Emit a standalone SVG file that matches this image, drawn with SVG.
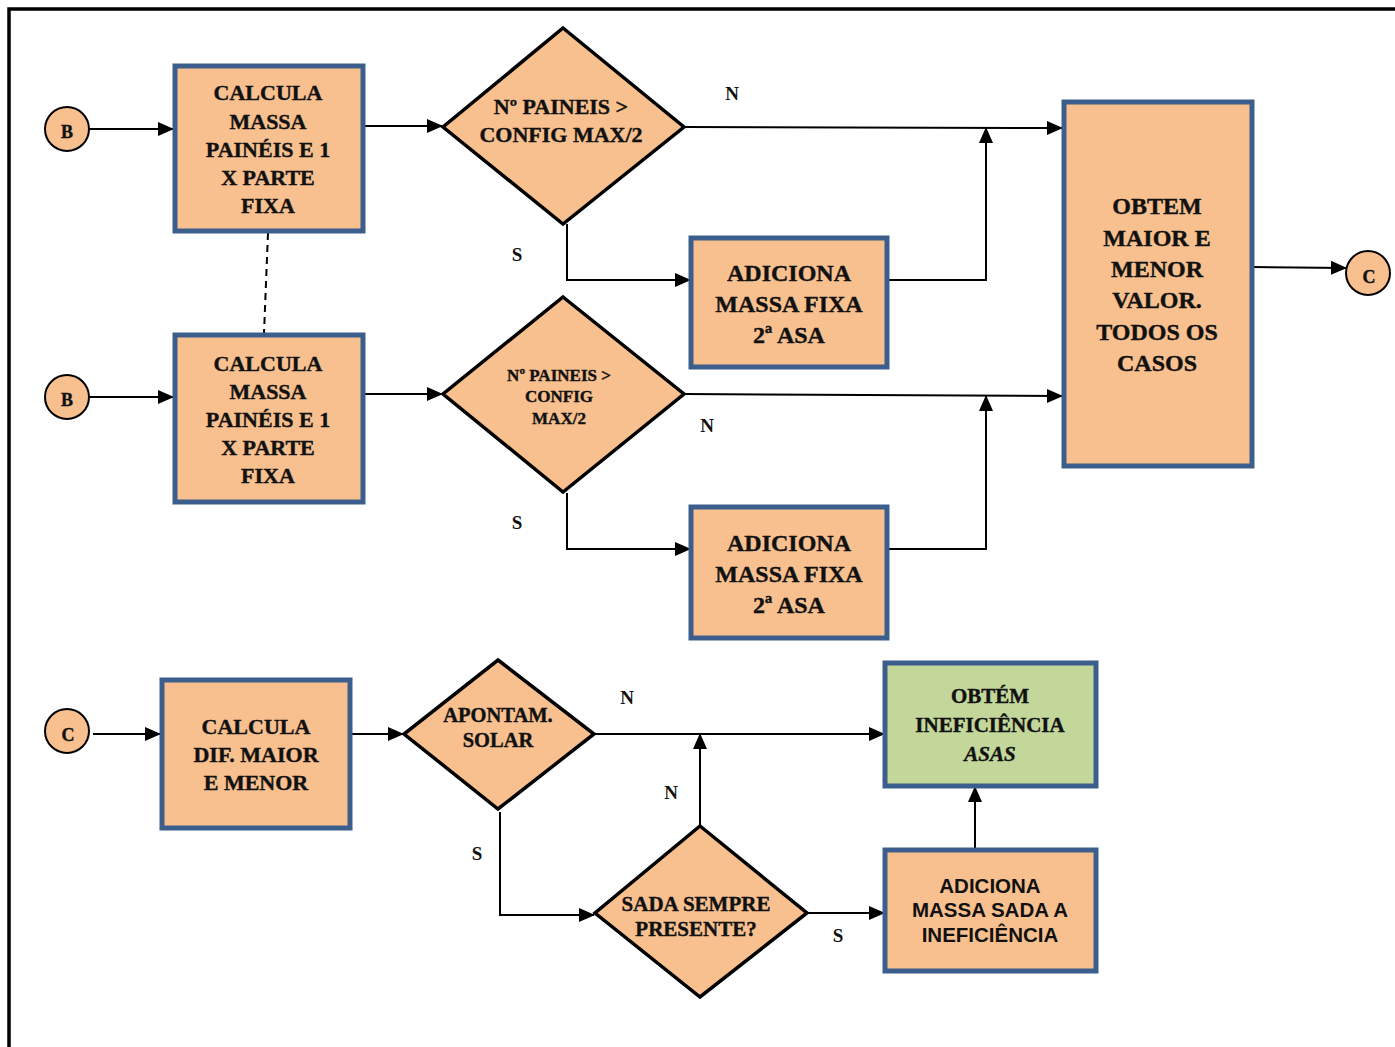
<svg xmlns="http://www.w3.org/2000/svg" width="1395" height="1047" viewBox="0 0 1395 1047">
  <defs>
    <marker id="arr" markerUnits="userSpaceOnUse" markerWidth="16" markerHeight="16" viewBox="0 0 16 16" refX="15" refY="8" orient="auto">
      <path d="M0,1 L16,8 L0,15 Z" fill="#000"/>
    </marker>
    <style>
      .proc { fill: #F8C08F; stroke: #3C5E8C; stroke-width: 5; }
      .green { fill: #C4D79B; stroke: #3C5E8C; stroke-width: 5; }
      .dec { fill: #F8C08F; stroke: #000; stroke-width: 3.5; stroke-linejoin: miter; }
      .conn { fill: #F8C08F; stroke: #000; stroke-width: 2; }
      .ln { fill: none; stroke: #000; stroke-width: 2; }
      .t { font-family: "Liberation Serif", "Times New Roman", serif; font-weight: bold; text-anchor: middle; fill: #111; stroke: #111; stroke-width: 0.4; }
      .s22 { font-size: 22px; }
      .s24 { font-size: 24px; }
      .s21 { font-size: 21px; }
      .s18 { font-size: 18px; }
      .sans { font-family: "Liberation Sans", Arial, sans-serif; font-weight: bold; font-size: 20.5px; text-anchor: middle; fill: #111; }
      .lbl { font-family: "Liberation Serif", "Times New Roman", serif; font-weight: bold; font-size: 19px; text-anchor: middle; fill: #111; }
    </style>
  </defs>

  <rect width="1395" height="1047" fill="#fff"/>
  <!-- page frame -->
  <path d="M9,1047 L9,9 L1395,9" fill="none" stroke="#000" stroke-width="3.5"/>

  <!-- connectors -->
  <g id="connectors">
    <line class="ln" x1="89" y1="129" x2="173" y2="129" marker-end="url(#arr)"/>
    <line class="ln" x1="364" y1="126" x2="442" y2="126" marker-end="url(#arr)"/>
    <line class="ln" x1="685" y1="127" x2="1062" y2="128" marker-end="url(#arr)"/>
    <polyline class="ln" points="567,224 567,280 690,280" marker-end="url(#arr)"/>
    <polyline class="ln" points="888,280 986,280 986,128" marker-end="url(#arr)"/>
    <line class="ln" x1="1253" y1="267" x2="1346" y2="268" marker-end="url(#arr)"/>
    <line class="ln" x1="268" y1="233" x2="264" y2="333" stroke-dasharray="7,5"/>

    <line class="ln" x1="89" y1="397" x2="173" y2="397" marker-end="url(#arr)"/>
    <line class="ln" x1="364" y1="394" x2="442" y2="394" marker-end="url(#arr)"/>
    <line class="ln" x1="685" y1="394" x2="1062" y2="396" marker-end="url(#arr)"/>
    <polyline class="ln" points="567,493 567,549 690,549" marker-end="url(#arr)"/>
    <polyline class="ln" points="888,549 986,549 986,396" marker-end="url(#arr)"/>

    <line class="ln" x1="93" y1="734" x2="160" y2="734" marker-end="url(#arr)"/>
    <line class="ln" x1="347" y1="734" x2="403" y2="734" marker-end="url(#arr)"/>
    <line class="ln" x1="595" y1="734" x2="884" y2="734" marker-end="url(#arr)"/>
    <polyline class="ln" points="500,812 500,915 594,915" marker-end="url(#arr)"/>
    <line class="ln" x1="700" y1="825" x2="700" y2="734" marker-end="url(#arr)"/>
    <line class="ln" x1="808" y1="913" x2="884" y2="913" marker-end="url(#arr)"/>
    <line class="ln" x1="975" y1="849" x2="975" y2="787" marker-end="url(#arr)"/>

    <text class="lbl" x="732" y="100">N</text>
    <text class="lbl" x="517" y="261">S</text>
    <text class="lbl" x="707" y="432">N</text>
    <text class="lbl" x="517" y="529">S</text>
    <text class="lbl" x="627" y="704">N</text>
    <text class="lbl" x="477" y="860">S</text>
    <text class="lbl" x="671" y="799">N</text>
    <text class="lbl" x="838" y="942">S</text>
  </g>

  <!-- first branch -->
  <g id="start-b1">
    <circle class="conn" cx="67" cy="129" r="22"/>
    <text class="t s18" x="67" y="138">B</text>
  </g>
  <g id="calc-massa-1">
    <rect class="proc" x="175" y="66" width="188" height="165"/>
    <text class="t s22" x="268" y="100">CALCULA</text>
    <text class="t s22" x="268" y="129">MASSA</text>
    <text class="t s22" x="268" y="157">PAINÉIS E 1</text>
    <text class="t s22" x="268" y="185">X PARTE</text>
    <text class="t s22" x="268" y="213">FIXA</text>
  </g>
  <g id="dec-paineis-1">
    <polygon class="dec" points="563,28 684,127 563,224 443,127"/>
    <text class="t s22" x="561" y="114">Nº PAINEIS &gt;</text>
    <text class="t s22" x="561" y="142">CONFIG MAX/2</text>
  </g>
  <g id="add-massa-1">
    <rect class="proc" x="691" y="238" width="196" height="129"/>
    <text class="t s24" x="789" y="281">ADICIONA</text>
    <text class="t s24" x="789" y="312">MASSA FIXA</text>
    <text class="t s24" x="789" y="343">2ª ASA</text>
  </g>

  <!-- second branch -->
  <g id="start-b2">
    <circle class="conn" cx="67" cy="397" r="22"/>
    <text class="t s18" x="67" y="406">B</text>
  </g>
  <g id="calc-massa-2">
    <rect class="proc" x="175" y="335" width="188" height="167"/>
    <text class="t s22" x="268" y="371">CALCULA</text>
    <text class="t s22" x="268" y="399">MASSA</text>
    <text class="t s22" x="268" y="427">PAINÉIS E 1</text>
    <text class="t s22" x="268" y="455">X PARTE</text>
    <text class="t s22" x="268" y="483">FIXA</text>
  </g>
  <g id="dec-paineis-2">
    <polygon class="dec" points="563,297 684,394 563,492 443,394"/>
    <text class="t" style="font-size:17px" x="559" y="381">Nº PAINEIS &gt;</text>
    <text class="t" style="font-size:17px" x="559" y="402">CONFIG</text>
    <text class="t" style="font-size:17px" x="559" y="424">MAX/2</text>
  </g>
  <g id="add-massa-2">
    <rect class="proc" x="691" y="507" width="196" height="131"/>
    <text class="t s24" x="789" y="551">ADICIONA</text>
    <text class="t s24" x="789" y="582">MASSA FIXA</text>
    <text class="t s24" x="789" y="613">2ª ASA</text>
  </g>

  <g id="obtem-maior-menor">
    <rect class="proc" x="1064" y="102" width="188" height="364"/>
    <text class="t s24" x="1157" y="214">OBTEM</text>
    <text class="t s24" x="1157" y="246">MAIOR E</text>
    <text class="t s24" x="1157" y="277">MENOR</text>
    <text class="t s24" x="1157" y="308">VALOR.</text>
    <text class="t s24" x="1157" y="340">TODOS OS</text>
    <text class="t s24" x="1157" y="371">CASOS</text>
  </g>
  <g id="end-c">
    <circle class="conn" cx="1368" cy="273" r="22"/>
    <text class="t s18" x="1369" y="283">C</text>
  </g>

  <!-- third branch -->
  <g id="start-c">
    <circle class="conn" cx="67" cy="731" r="22"/>
    <text class="t s18" x="68" y="741">C</text>
  </g>
  <g id="calc-dif">
    <rect class="proc" x="162" y="680" width="188" height="148"/>
    <text class="t s22" x="256" y="734">CALCULA</text>
    <text class="t s22" x="256" y="762">DIF. MAIOR</text>
    <text class="t s22" x="256" y="790">E MENOR</text>
  </g>
  <g id="dec-apontam">
    <polygon class="dec" points="498,660 594,734 498,809 404,734"/>
    <text class="t" style="font-size:20.5px" x="498" y="722">APONTAM.</text>
    <text class="t" style="font-size:20.5px" x="498" y="747">SOLAR</text>
  </g>
  <g id="dec-sada">
    <polygon class="dec" points="700,826 807,913 700,997 595,913"/>
    <text class="t s21" x="696" y="911">SADA SEMPRE</text>
    <text class="t s21" x="696" y="936">PRESENTE?</text>
  </g>
  <g id="obtem-ineficiencia">
    <rect class="green" x="885" y="663" width="211" height="123"/>
    <text class="t s21" x="990" y="703">OBTÉM</text>
    <text class="t s21" x="990" y="732">INEFICIÊNCIA</text>
    <text class="t s21" x="990" y="761" font-style="italic">ASAS</text>
  </g>
  <g id="add-massa-sada">
    <rect class="proc" x="885" y="850" width="211" height="121"/>
    <text class="sans" x="990" y="893">ADICIONA</text>
    <text class="sans" x="990" y="917">MASSA SADA A</text>
    <text class="sans" x="990" y="942">INEFICIÊNCIA</text>
  </g>
</svg>
